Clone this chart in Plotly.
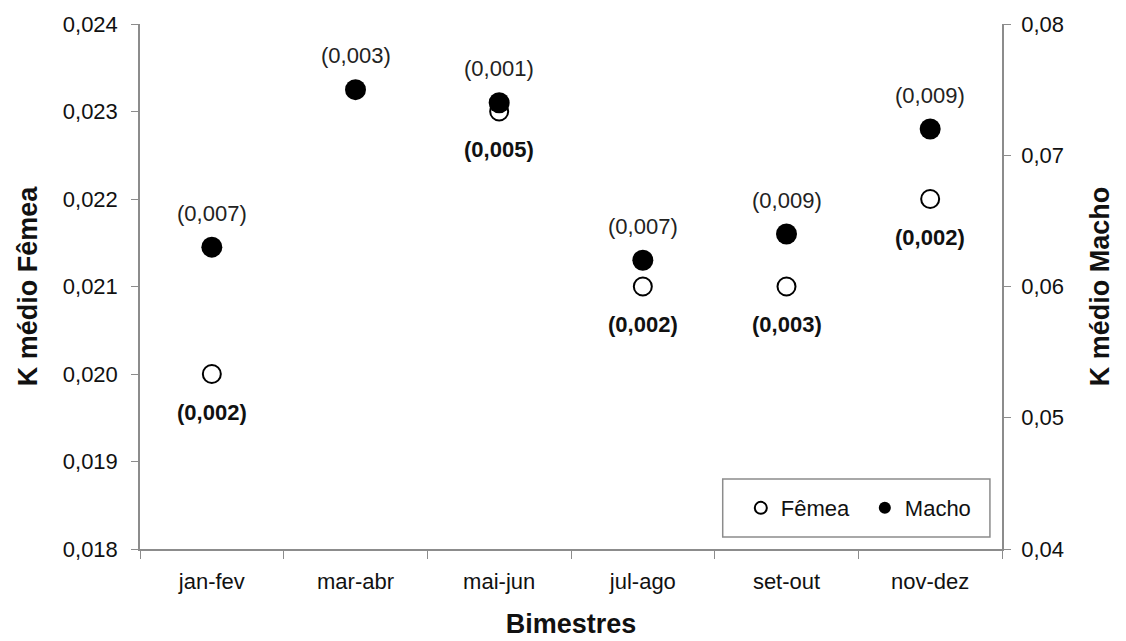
import plotly.graph_objects as go

categories = ["jan-fev", "mar-abr", "mai-jun", "jul-ago", "set-out", "nov-dez"]
femea = [0.020, None, 0.023, 0.021, 0.021, 0.022]
femea_sd = ["(0,002)", None, "(0,005)", "(0,002)", "(0,003)", "(0,002)"]
macho = [0.063, 0.075, 0.074, 0.062, 0.064, 0.072]
macho_sd = ["(0,007)", "(0,003)", "(0,001)", "(0,007)", "(0,009)", "(0,009)"]

FONT = "Liberation Sans, Arial, sans-serif"
AX = "#8c8c8c"
TXT = "#111"
FS = 22
TS = 27

fig = go.Figure()
fig.add_trace(go.Scatter(
    x=categories, y=femea, mode="markers", name="Fêmea",
    marker=dict(symbol="circle", size=18, color="white", line=dict(color="black", width=2)),
    yaxis="y",
))
fig.add_trace(go.Scatter(
    x=categories, y=macho, mode="markers", name="Macho",
    marker=dict(symbol="circle", size=21, color="black", line=dict(color="black", width=0)),
    yaxis="y2",
))

ann = []
for c, v, t in zip(categories, femea, femea_sd):
    if v is not None and t:
        ann.append(dict(x=c, y=v, xref="x", yref="y", text="<b>" + t + "</b>", showarrow=False,
                        yshift=-38, font=dict(family=FONT, size=FS, color=TXT)))
for c, v, t in zip(categories, macho, macho_sd):
    ann.append(dict(x=c, y=v, xref="x", yref="y2", text=t, showarrow=False,
                    yshift=34, font=dict(family=FONT, size=FS, color="#222")))

fig.update_layout(
    width=1126, height=641,
    margin=dict(l=140, r=124, t=24, b=92),
    paper_bgcolor="white", plot_bgcolor="white",
    separators=",.",
    font=dict(family=FONT, size=FS, color=TXT),
    showlegend=True,
    legend=dict(orientation="h", x=0.697, xanchor="left", y=0.078, yanchor="middle",
                borderwidth=0, bgcolor="rgba(0,0,0,0)",
                font=dict(family=FONT, size=FS, color=TXT),
                itemwidth=30, entrywidth=79, itemsizing="constant"),
    shapes=[dict(type="rect", xref="paper", yref="paper", x0=0.676, x1=0.986, y0=0.0229, y1=0.1333,
                 line=dict(color=AX, width=1.5), fillcolor="white", layer="below")],
    xaxis=dict(type="category", showline=True, linecolor=AX, linewidth=1.5,
               ticks="outside", tickson="boundaries", ticklen=8, tickcolor=AX,
               showgrid=False, zeroline=False, ticklabelstandoff=12, automargin=False,
               title=dict(text="<b>Bimestres</b>", font=dict(family=FONT, size=TS, color=TXT), standoff=21),
               tickfont=dict(family=FONT, size=FS, color=TXT), range=[-0.5, 5.5]),
    yaxis=dict(range=[0.018, 0.024], dtick=0.001, tickformat=".3f", showline=True, linecolor=AX,
               linewidth=1.5, ticks="outside", ticklen=7, tickcolor=AX, showgrid=False, zeroline=False,
               ticklabelstandoff=9, automargin=False,
               title=dict(text="<b>K médio Fêmea</b>", font=dict(family=FONT, size=TS, color=TXT), standoff=17),
               tickfont=dict(family=FONT, size=FS, color=TXT)),
    yaxis2=dict(range=[0.04, 0.08], dtick=0.01, tickformat=".2f", overlaying="y", side="right",
                showline=True, linecolor=AX, linewidth=1.5, ticks="outside", ticklen=7, tickcolor=AX,
                showgrid=False, zeroline=False, ticklabelstandoff=6, automargin=False,
                title=dict(text="<b>K médio Macho</b>", font=dict(family=FONT, size=TS, color=TXT), standoff=27),
                tickfont=dict(family=FONT, size=FS, color=TXT)),
    annotations=ann,
)

fig.write_html("out.html")
